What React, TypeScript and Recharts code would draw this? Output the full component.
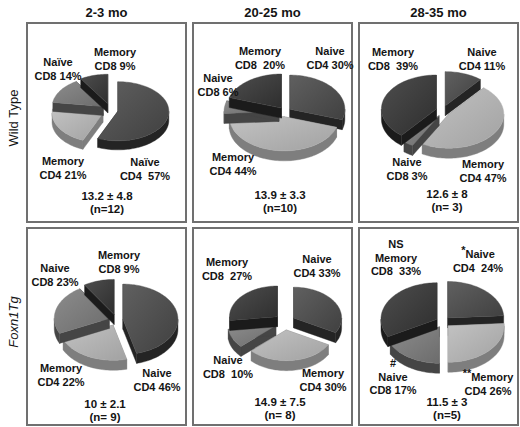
import React from "react";
import { Pie, PieChart } from "recharts";

const SUBSETS = ["Naive CD4", "Memory CD4", "Naive CD8", "Memory CD8"];
const AGE_GROUPS = ["2-3 mo", "20-25 mo", "28-35 mo"];
const STRAINS = ["Wild Type", "Foxn1Tg"];

// percent of each subset, same order as SUBSETS
const WT_2_3 = [57, 21, 14, 9];
const WT_20_25 = [30, 44, 6, 20];
const WT_28_35 = [11, 47, 3, 39];
const TG_2_3 = [46, 22, 23, 9];
const TG_20_25 = [33, 30, 10, 27];
const TG_28_35 = [24, 26, 17, 33];

const MEANS = ["13.2 ± 4.8", "13.9 ± 3.3", "12.6 ± 8", "10 ± 2.1", "14.9 ± 7.5", "11.5 ± 3"];
const COUNTS = ["(n=12)", "(n=10)", "(n= 3)", "(n= 9)", "(n= 8)", "(n=5)"];

// captions, same order as SUBSETS
const CAP_WT_2_3 = [["Naïve", "CD4  57%"], ["Memory", "CD4 21%"], ["Naïve", "CD8 14%"], ["Memory", "CD8 9%"]];
const CAP_WT_20_25 = [["Naive", "CD4 30%"], ["Memory", "CD4 44%"], ["Naive", "CD8 6%"], ["Memory", "CD8  20%"]];
const CAP_WT_28_35 = [["Naive", "CD4 11%"], ["Memory", "CD4 47%"], ["Naive", "CD8 3%"], ["Memory", "CD8  39%"]];
const CAP_TG_2_3 = [["Naive", "CD4 46%"], ["Memory", "CD4 22%"], ["Naive", "CD8 23%"], ["Memory", "CD8 9%"]];
const CAP_TG_20_25 = [["Naive", "CD4 33%"], ["Memory", "CD4 30%"], ["Naive", "CD8  10%"], ["Memory", "CD8  27%"]];
const CAP_TG_28_35 = [["*Naive", "CD4  24%"], ["**Memory", "CD4 26%"], ["#", "Naive", "CD8 17%"], ["NS", "Memory", "CD8  33%"]];

const TOP_COLORS = ["#4e4e4e", "#b0b0b0", "#7a7a7a", "#3c3c3c"];
const SIDE_COLORS = ["#242424", "#7e7e7e", "#454545", "#1b1b1b"];

const FONT = "'Liberation Sans', Arial, Helvetica, sans-serif";

type Spec = {
  values: number[];
  caps: string[][];
  box: [number, number, number, number];
  cx: number;
  cy: number;
  r: number;
  tilt: number;
  depth: number;
  explode: number;
  at: number[][];
  sum: [number, number];
};

const PANELS: Spec[] = [
  { values: WT_2_3, caps: CAP_WT_2_3, box: [26, 22, 161, 201], cx: 110, cy: 110, r: 51, tilt: 0.58, depth: 9, explode: 8,
    at: [[145, 163], [63, 162], [58, 63], [115, 53]], sum: [107, 196] },
  { values: WT_20_25, caps: CAP_WT_20_25, box: [192, 22, 161, 201], cx: 285, cy: 112, r: 55, tilt: 0.62, depth: 10, explode: 6,
    at: [[330, 52], [233, 158], [218, 79], [260, 52]], sum: [280, 195] },
  { values: WT_28_35, caps: CAP_WT_28_35, box: [358, 22, 161, 201], cx: 443, cy: 111, r: 55, tilt: 0.62, depth: 10, explode: 7,
    at: [[482, 53], [483, 165], [407, 163], [393, 53]], sum: [447, 194] },
  { values: TG_2_3, caps: CAP_TG_2_3, box: [26, 227, 161, 199], cx: 116, cy: 320, r: 55, tilt: 0.64, depth: 10, explode: 7,
    at: [[157, 374], [61, 369], [55, 269], [119, 256]], sum: [105, 404] },
  { values: TG_20_25, caps: CAP_TG_20_25, box: [192, 227, 161, 199], cx: 285, cy: 322, r: 48, tilt: 0.64, depth: 10, explode: 10,
    at: [[317, 260], [323, 374], [228, 361], [227, 263]], sum: [280, 402] },
  { values: TG_28_35, caps: CAP_TG_28_35, box: [358, 227, 161, 199], cx: 443, cy: 322, r: 56, tilt: 0.65, depth: 10, explode: 7,
    at: [[478, 255], [488, 378], [393, 364], [396, 245]], sum: [447, 402] },
];

const rad = (d: number) => (d * Math.PI) / 180;

const shade = (hex: string, amt: number) => {
  const v = parseInt(hex.slice(1), 16);
  const c = [(v >> 16) & 255, (v >> 8) & 255, v & 255].map((x) => Math.max(0, Math.min(255, x + amt)));
  return `rgb(${c[0]},${c[1]},${c[2]})`;
};

// draws one tilted, exploded 3D slice from the sector geometry recharts computed
const slice3d = (tilt: number, depth: number, explode: number, uid: string) => (props: any) => {
  const { cx, cy, outerRadius: r, startAngle, endAngle, index } = props;
  const mid = rad((startAngle + endAngle) / 2);
  const ox = cx + explode * Math.cos(mid);
  const oy = cy - explode * 0.8 * Math.sin(mid);
  const pt = (a: number, dz = 0) =>
    `${ox + r * Math.cos(rad(a))},${oy - r * tilt * Math.sin(rad(a)) + dz}`;

  const lo = Math.min(startAngle, endAngle);
  const hi = Math.max(startAngle, endAngle);
  const n = Math.max(2, Math.ceil((hi - lo) / 2));
  const steps: number[] = [];
  for (let j = 0; j <= n; j++) steps.push(lo + ((hi - lo) * j) / n);
  for (let k = Math.ceil(lo / 180) * 180; k <= hi; k += 180) steps.push(k);
  steps.sort((a, b) => a - b);

  const runs: number[][] = [];
  let cur: number[] = [];
  for (const a of steps) {
    if (Math.sin(rad(a)) <= 1e-6) cur.push(a);
    else {
      if (cur.length > 1) runs.push(cur);
      cur = [];
    }
  }
  if (cur.length > 1) runs.push(cur);

  const top = TOP_COLORS[index];
  const side = SIDE_COLORS[index];
  const c0 = `${ox},${oy}`;
  const c1 = `${ox},${oy + depth}`;
  const gid = `${uid}-${index}`;

  return (
    <g>
      <defs>
        <linearGradient id={gid} x1="0" y1="0" x2="1" y2="1">
          <stop offset="0%" stopColor={shade(top, 18)} />
          <stop offset="100%" stopColor={shade(top, -14)} />
        </linearGradient>
      </defs>
      {[startAngle, endAngle].map((a, j) => (
        <polygon key={`f${j}`} points={`${c0} ${pt(a)} ${pt(a, depth)} ${c1}`} fill={side} stroke={side} strokeWidth={0.4} />
      ))}
      {runs.map((run, j) => (
        <polygon
          key={`w${j}`}
          points={[...run.map((a) => pt(a)), ...run.slice().reverse().map((a) => pt(a, depth))].join(" ")}
          fill={side}
          stroke={side}
          strokeWidth={0.4}
        />
      ))}
      <polygon points={[c0, ...steps.map((a) => pt(a))].join(" ")} fill={`url(#${gid})`} stroke={top} strokeWidth={0.4} />
    </g>
  );
};

const renderLine = (s: string) => {
  const m = s.match(/^(\*+)(.*)$/);
  if (!m) return s;
  return (
    <>
      <span style={{ position: "relative", top: -4 }}>{m[1]}</span>
      {m[2]}
    </>
  );
};

const Caption = ({ lines, x, y, size = 11, lh = 13.5 }: { lines: string[]; x: number; y: number; size?: number; lh?: number }) => (
  <div
    style={{
      position: "absolute",
      left: x,
      top: y - lh / 2,
      transform: "translateX(-50%)",
      textAlign: "center",
      whiteSpace: "pre",
      fontFamily: FONT,
      fontWeight: "bold",
      fontSize: size,
      lineHeight: `${lh}px`,
      color: "#141414",
    }}
  >
    {lines.map((l, i) => (
      <div key={i}>{renderLine(l)}</div>
    ))}
  </div>
);

const Panel = ({ p, i }: { p: Spec; i: number }) => {
  const [bx, by, bw, bh] = p.box;
  const data = SUBSETS.map((name, k) => ({ name, value: p.values[k] }));
  return (
    <>
      <div
        style={{
          position: "absolute",
          left: bx,
          top: by,
          width: bw,
          height: bh,
          border: "2px solid #707070",
          boxSizing: "border-box",
        }}
      />
      <div style={{ position: "absolute", left: bx, top: by }}>
        <PieChart width={bw} height={bh} margin={{ top: 0, right: 0, bottom: 0, left: 0 }}>
          <Pie
            data={data}
            dataKey="value"
            nameKey="name"
            cx={p.cx - bx}
            cy={p.cy - by}
            outerRadius={p.r}
            startAngle={90}
            endAngle={-270}
            fill="transparent"
            stroke="none"
            labelLine={false}
            label={slice3d(p.tilt, p.depth, p.explode, `g${i}`)}
            isAnimationActive={false}
          />
        </PieChart>
      </div>
      {p.caps.map((lines, k) => (
        <Caption key={k} lines={lines} x={p.at[k][0]} y={p.at[k][1]} />
      ))}
      <Caption lines={[MEANS[i], COUNTS[i]]} x={p.sum[0]} y={p.sum[1]} size={11.5} lh={13} />
    </>
  );
};

const App = () => {
  return (
    <div style={{ position: "absolute", left: 0, top: 0, width: 520, height: 427, background: "#fff", overflow: "hidden" }}>
      {AGE_GROUPS.map((g, i) => (
        <div
          key={g}
          style={{
            position: "absolute",
            left: PANELS[i].box[0] + PANELS[i].box[2] / 2,
            top: 4,
            transform: "translateX(-50%)",
            fontFamily: FONT,
            fontWeight: "bold",
            fontSize: 13,
            lineHeight: "18px",
            color: "#141414",
            whiteSpace: "nowrap",
          }}
        >
          {g}
        </div>
      ))}
      {STRAINS.map((s, i) => (
        <div
          key={s}
          style={{
            position: "absolute",
            left: 13,
            top: i === 0 ? 118 : 322,
            transform: "translate(-50%, -50%) rotate(-90deg)",
            fontFamily: FONT,
            fontSize: 13,
            fontStyle: i === 1 ? "italic" : "normal",
            color: "#141414",
            whiteSpace: "nowrap",
          }}
        >
          {s}
        </div>
      ))}
      {PANELS.map((p, i) => (
        <Panel key={i} p={p} i={i} />
      ))}
    </div>
  );
};

export default App;
